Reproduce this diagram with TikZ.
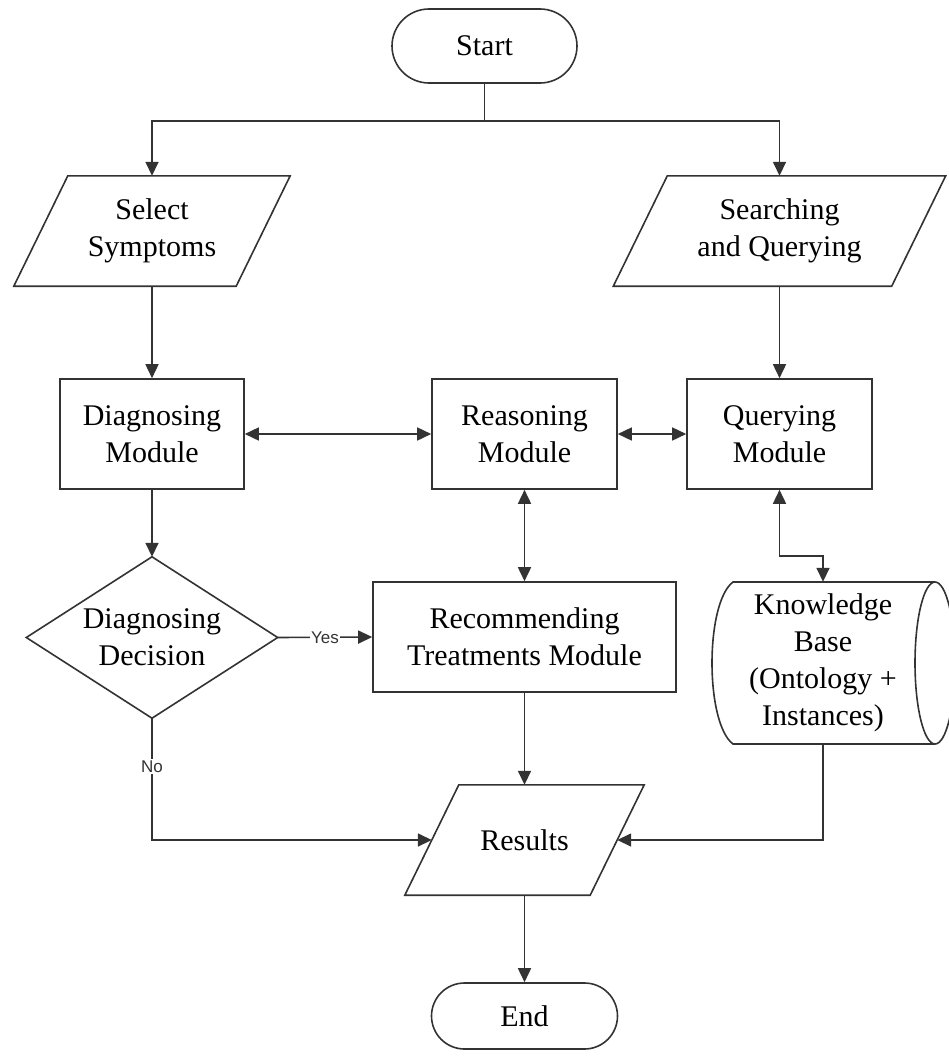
\documentclass[tikz,border=0pt]{standalone}
\usepackage{fontspec}
\setmainfont{Liberation Serif}
\newfontfamily\lblfont{Liberation Sans}
\usetikzlibrary{arrows.meta,calc}
\definecolor{ln}{HTML}{333333}
\begin{document}
\begin{tikzpicture}[x=1pt,y=-1pt,
  txt/.style={font=\fontsize{30}{37}\selectfont, align=center, inner sep=0pt, text=black},
  ghost/.style={txt, rectangle},
  box/.style={txt, rectangle, draw=ln, line width=1.6pt, minimum height=110pt},
  term/.style={txt, rectangle, draw=ln, line width=1.6pt},
  shp/.style={draw=ln, line width=1.6pt},
  conn/.style={draw=ln, line width=1.6pt},
  arr/.style={conn, -{Triangle[length=14pt,width=13pt]}},
  darr/.style={conn, {Triangle[length=14pt,width=13pt]}-{Triangle[length=14pt,width=13pt]}},
  lbl/.style={font=\lblfont\fontsize{17}{20}\selectfont, fill=white, inner sep=1.5pt, text=ln}
]
\fill[white] (0,0) rectangle (949,1057);
\useasboundingbox (0,0) rectangle (949,1057);

% nodes
\node[term, minimum width=185pt, minimum height=74pt, rounded corners=37pt] (start) at (484.5,46) {Start};
\node[ghost, minimum width=222pt, minimum height=110pt] (sel) at (152,231) {Select\\Symptoms};
\node[ghost, minimum width=278pt, minimum height=110pt] (srch) at (779.5,231) {Searching\\and Querying};
\node[box, minimum width=184pt] (dm) at (152,434) {Diagnosing\\Module};
\node[box, minimum width=185pt] (rm) at (524.5,434) {Reasoning\\Module};
\node[box, minimum width=185pt] (qm) at (779.5,434) {Querying\\Module};
\node[ghost, minimum width=251pt, minimum height=161pt] (dd) at (152,637.5) {Diagnosing\\Decision};
\node[box, minimum width=303pt] (rec) at (524.5,637) {Recommending\\Treatments Module};
\node[ghost, minimum width=180pt, minimum height=162pt] (kb) at (823,663) {Knowledge\\Base\\(Ontology +\\Instances)};
\node[ghost, minimum width=185pt, minimum height=110pt] (res) at (524.5,840) {Results};
\node[term, minimum width=186pt, minimum height=66pt, rounded corners=33pt] (end) at (524.5,1016) {End};

% shapes drawn around ghost nodes
\draw[shp] ([xshift=27pt]sel.north west) -- ([xshift=27pt]sel.north east) -- ([xshift=-27pt]sel.south east) -- ([xshift=-27pt]sel.south west) -- cycle;
\draw[shp] ([xshift=27pt]srch.north west) -- ([xshift=27pt]srch.north east) -- ([xshift=-27pt]srch.south east) -- ([xshift=-27pt]srch.south west) -- cycle;
\draw[shp] ([xshift=27pt]res.north west) -- ([xshift=27pt]res.north east) -- ([xshift=-27pt]res.south east) -- ([xshift=-27pt]res.south west) -- cycle;
\draw[shp] (dd.north) -- (dd.east) -- (dd.south) -- (dd.west) -- cycle;
\draw[shp] (935,582) -- (733,582) .. controls (705,603) and (705,723) .. (733,744) -- (935,744);
\draw[shp] (935,663) ellipse [x radius=20, y radius=81];

% connectors
\coordinate (split) at (484.5,121);
\draw[conn] (start.south) -- (split);
\draw[arr] (split) -| (sel.north);
\draw[arr] (split) -| (srch.north);
\draw[arr] (sel.south) -- (dm.north);
\draw[arr] (srch.south) -- (qm.north);
\draw[darr] (dm.east) -- (rm.west);
\draw[darr] (rm.east) -- (qm.west);
\draw[darr] (rm.south) -- (rec.north);
\draw[arr] (dm.south) -- (dd.north);
\draw[arr] (dd.east) -- node[lbl, pos=0.5]{Yes} (rec.west);
\draw[arr] (dd.south) -- node[lbl, pos=0.4]{No} (dd.south |- res.west) -- (res.west);
\draw[darr] (qm.south) -- ++(0,66) -| (kb.north);
\draw[arr] (kb.south) |- (res.east);
\draw[arr] (rec.south) -- (res.north);
\draw[arr] (res.south) -- (end.north);
\end{tikzpicture}
\end{document}
